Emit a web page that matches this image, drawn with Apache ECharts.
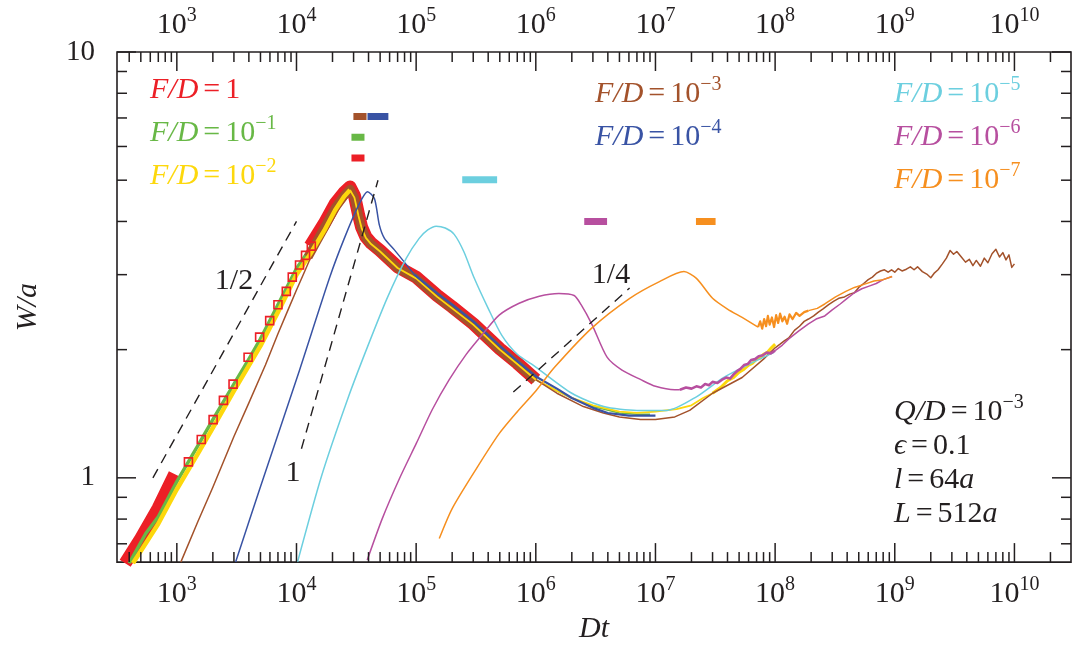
<!DOCTYPE html>
<html><head><meta charset="utf-8">
<script src="https://cdn.jsdelivr.net/npm/echarts@6/dist/echarts.min.js"></script>
<style>html,body{margin:0;padding:0;background:#fff}#c{width:1074px;height:649px}</style>
</head><body><div id="c"></div>
<script>
const FONT = '"Liberation Serif","DejaVu Serif",serif';
const INK = '#231f20';
const C = {red:'#ec1f26', green:'#68b846', yellow:'#fdd80c', brown:'#a3522b', blue:'#3953a4', cyan:'#6ccfdf', magenta:'#b74f9f', orange:'#f68f1f'};
const NAMES = ['F/D=1','F/D=10^-1','F/D=10^-2','F/D=10^-3','F/D=10^-4','F/D=10^-5','F/D=10^-6','F/D=10^-7'];
const xMin = 316.2, xMax = 2.97e10, yMin = 0.634, yMax = 10;
const xTickLabels = [1e3,1e4,1e5,1e6,1e7,1e8,1e9,1e10];
const yTickLabels = [1, 10];

// ---- F/D = 1 (red)
const redThick = [[370,0.63],[500,0.72],[700,0.85],[960,1.02]];
const redSquares = [[1250,1.09],[1600,1.23],[2010,1.37],[2450,1.52],[2950,1.66],[3940,1.92],[4920,2.14],[5970,2.34],[7000,2.55],[8220,2.74],[9220,2.96],[10600,3.16],[11900,3.33],[13300,3.50]];
const redLate = [[13000,3.50],[17000,3.95],[21000,4.40],[25000,4.68],[28000,4.82],[30500,4.60],[33000,4.15],[35000,3.88],[38000,3.68],[42000,3.56],[50000,3.42],[70000,3.13],[100000,2.96],[150000,2.68],[200000,2.52],[300000,2.30],[500000,2.01],[700000,1.86],[1000000,1.70]];
// ---- F/D = 0.1 (green)
const greenMain = [[400,0.63],[550,0.74],[700,0.81],[1000,0.98],[1500,1.19],[2000,1.37],[3000,1.66],[4000,1.90],[5000,2.12],[7000,2.55],[10000,3.10],[13000,3.45],[17000,3.90],[21000,4.35],[25000,4.62],[27500,4.76],[30500,4.55],[33000,4.15],[35000,3.88],[38000,3.68],[42000,3.56],[50000,3.42],[70000,3.13],[100000,2.96],[150000,2.68],[200000,2.52],[300000,2.30],[500000,2.01],[700000,1.86],[1000000,1.70]];
const greenValley = [[1000000,1.70],[1500000,1.60],[2000000,1.54],[3000000,1.47],[5000000,1.42],[7000000,1.41],[9000000,1.41]];
// ---- F/D = 1e-2 (yellow)
const yellowRise = [[430,0.63],[700,0.78],[1000,0.94],[1500,1.14],[2000,1.31],[3000,1.60],[5000,2.04],[7000,2.45],[10000,3.00],[13000,3.35],[17000,3.80],[21000,4.25],[25000,4.58],[28000,4.74]];
const yellowFall = [[28000,4.74],[30500,4.55],[33000,4.12],[35000,3.86],[38000,3.66],[42000,3.54],[50000,3.40],[70000,3.11],[100000,2.94],[150000,2.66],[200000,2.50],[300000,2.29],[500000,2.00],[700000,1.85],[1000000,1.70],[1500000,1.60],[2000000,1.54],[3000000,1.48],[5000000,1.43],[7000000,1.42],[10000000,1.43],[15000000,1.45],[20000000,1.48],[25000000,1.54],[30000000,1.58]];
const yellowLate = [[30000000,1.58],[35000000,1.63],[40000000,1.69],[45000000,1.72],[50000000,1.77],[55000000,1.80],[60000000,1.84],[65000000,1.86],[70000000,1.90],[75000000,1.91],[80000000,1.95],[86000000,1.97],[93000000,2.02],[100000000,2.06]];
// ---- F/D = 1e-3 (brown)
const brownRise = [[1080,0.634],[1500,0.79],[2000,0.95],[3000,1.25],[4000,1.50],[5500,1.84],[7000,2.18],[8500,2.48],[10000,2.76],[11500,3.02],[13000,3.27],[15000,3.58]];
const brownBand = [[12500,3.30],[15000,3.62],[17000,3.86],[21000,4.30],[25000,4.60],[28000,4.76],[30500,4.55],[33000,4.12],[35000,3.86],[38000,3.66],[42000,3.54],[50000,3.40],[70000,3.11],[100000,2.94],[150000,2.66],[200000,2.50],[300000,2.29],[500000,2.00],[700000,1.85],[1000000,1.70]];
const brownLate = [[1000000,1.70],[1500000,1.58],[2500000,1.47],[3670000,1.42],[5000000,1.39],[7500000,1.37],[10000000,1.37],[14500000,1.39],[19300000,1.44],[30000000,1.58],[53000000,1.72],[80000000,1.90],[100000000,2.02],[110000000,2.06],[120000000,2.10],[130000000,2.13],[145000000,2.22],[160000000,2.27],[175000000,2.33],[190000000,2.36],[210000000,2.40],[230000000,2.45],[250000000,2.49],[280000000,2.55],[310000000,2.60],[340000000,2.64],[380000000,2.66],[420000000,2.70],[460000000,2.72],[500000000,2.80],[550000000,2.86],[600000000,2.92],[650000000,2.96],[700000000,3.02],[760000000,3.06],[820000000,3.08],[880000000,3.04],[940000000,3.08],[1000000000,3.04],[1070000000,3.10],[1150000000,3.06],[1250000000,3.09],[1350000000,3.13],[1450000000,3.08],[1550000000,3.13],[1700000000,3.05],[1850000000,3.01],[2000000000,2.95],[2150000000,3.03],[2300000000,3.08],[2500000000,3.18],[2700000000,3.28],[2900000000,3.42],[3100000000,3.35],[3300000000,3.40],[3600000000,3.30],[3900000000,3.21],[4200000000,3.26],[4500000000,3.15],[4800000000,3.24],[5200000000,3.14],[5600000000,3.28],[6000000000,3.20],[6500000000,3.36],[7000000000,3.44],[7500000000,3.30],[8000000000,3.38],[8500000000,3.25],[9000000000,3.34],[9500000000,3.12],[10000000000,3.18]];
// ---- F/D = 1e-4 (blue)
const blueRise = [[3100,0.634],[4920,0.94],[10600,1.79],[18900,2.95],[25100,3.65],[33600,4.41],[39200,4.70],[44800,4.53],[49300,3.92],[54300,3.65],[65800,3.43],[96600,3.00]];
const blueFall = [[96600,3.00],[150000,2.71],[200000,2.55],[300000,2.33],[500000,2.04],[700000,1.88],[1000000,1.73],[1500000,1.62],[2000000,1.54],[3000000,1.46],[4000000,1.42],[6000000,1.40],[10000000,1.40]];
// ---- F/D = 1e-5 (cyan)
const cyanData = [[10200,0.634],[16200,1.01],[27200,1.55],[39200,2.03],[57500,2.65],[82800,3.28],[106000,3.65],[125000,3.82],[147000,3.90],[175000,3.86],[208000,3.73],[250000,3.40],[305000,2.95],[400000,2.50],[520000,2.16],[700000,1.95],[1000000,1.82],[2000000,1.58],[3700000,1.47],[7000000,1.44],[12500000,1.44],[22000000,1.55],[37000000,1.72],[61000000,1.85],[98000000,1.97]];
// ---- F/D = 1e-6 (magenta)
const magentaData = [[39000,0.641],[52200,0.803],[72400,0.995],[100500,1.206],[136500,1.447],[189000,1.70],[262000,1.95],[357000,2.17],[494000,2.41],[726000,2.57],[1070000,2.67],[1560000,2.71],[2090000,2.68],[2390000,2.55],[2950000,2.29],[3940000,1.92],[5250000,1.79],[7550000,1.70],[10000000,1.64],[14500000,1.61],[16000000,1.61]];
const magentaNoisy = [[16000000,1.61],[18000000,1.63],[20000000,1.62],[22000000,1.64],[24000000,1.63],[26000000,1.66],[28000000,1.65],[30000000,1.68],[33000000,1.67],[36000000,1.70],[39000000,1.72],[42000000,1.71],[45000000,1.75],[48000000,1.78],[51000000,1.80],[55000000,1.84],[59000000,1.85],[63000000,1.89],[68000000,1.90],[73000000,1.93],[79000000,1.94],[85000000,1.97],[92000000,1.96],[100000000,1.99]];
const magentaLate = [[100000000,1.99],[115000000,2.05],[130000000,2.12],[157000000,2.21],[190000000,2.30],[220000000,2.36],[260000000,2.40],[300000000,2.48],[350000000,2.56],[400000000,2.64],[460000000,2.72],[530000000,2.78],[610000000,2.82],[700000000,2.86],[800000000,2.92],[950000000,2.97]];
// ---- F/D = 1e-7 (orange)
const orangeData = [[156000,0.72],[200000,0.847],[318000,1.05],[494000,1.27],[700000,1.43],[1000000,1.60],[1440000,1.82],[2950000,2.25],[6100000,2.64],[10800000,2.89],[17300000,3.05],[22000000,2.94],[30000000,2.64],[40000000,2.49],[53000000,2.38],[65000000,2.30],[72000000,2.26]];
const orangeNoisy = [[72000000,2.26],[75000000,2.33],[78000000,2.24],[81000000,2.36],[84000000,2.27],[87000000,2.40],[90000000,2.29],[94000000,2.38],[98000000,2.26],[102000000,2.41],[106000000,2.31],[110000000,2.43],[115000000,2.33],[120000000,2.39],[126000000,2.30],[132000000,2.42],[140000000,2.36],[150000000,2.44],[160000000,2.40],[175000000,2.45],[190000000,2.47]];
const orangeLate = [[190000000,2.47],[225000000,2.50],[260000000,2.56],[320000000,2.66],[390000000,2.74],[460000000,2.80],[560000000,2.85],[670000000,2.90],[800000000,2.92],[950000000,2.97]];
// ---- characteristic-time bars
const barNames = NAMES;
const barT0 = [28800, 28800, null, 29900, 39200, 242700, 2540000, 21800000];
const barT1 = [37000, 37000, null, 38500, 58600, 475000, 3940000, 31800000];
const barW  = [5.64, 6.31, null, 7.06, 7.06, 5.01, 4.0, 4.0];
// ---- guide lines (slopes 1/2, 1, 1/4)
const guideHalf = [[631,1.0],[10000,4.0]];
const guideOne = [[11000,1.17],[48000,5.0]];
const guideQuarter = [[649000,1.59],[6080000,2.79]];

function makeRich(fs, ss){
  return {
    b:{fontFamily:FONT,fontSize:fs,lineHeight:34,verticalAlign:'bottom'},
    i:{fontFamily:FONT,fontSize:fs,fontStyle:'italic',lineHeight:34,verticalAlign:'bottom'},
    e:{fontFamily:FONT,fontSize:fs,lineHeight:34,verticalAlign:'bottom',padding:[0,5,0,5]},
    s:{fontFamily:FONT,fontSize:ss,lineHeight:20,verticalAlign:'bottom',padding:[0,0,14,0]}
  };
}
const richText = makeRich(30, 20);
const richTick = makeRich(30, 20);
function fdLabel(name){
  const r = name.split('=')[1];
  let s = '{i|F/D}{e|=}';
  if (r === '1') s += '{b|1}';
  else s += '{b|10}{s|\u2212' + r.split('^-')[1] + '}';
  return s;
}
function pow10Label(v){
  const e = Math.log10(v);
  if (Math.abs(e - Math.round(e)) > 1e-6) return '';
  if (xTickLabels.indexOf(Math.pow(10, Math.round(e))) < 0) return '';
  return '{b|10}{s|' + Math.round(e) + '}';
}

const chart = echarts.init(document.getElementById('c'), null, {renderer:'canvas'});
const series = [];
function ln(name, data, color, width, extra){
  series.push(Object.assign({type:'line', name:name, data:data, showSymbol:false, symbol:'none', smooth:false,
    lineStyle:{color:color, width:width, cap:'butt', join:'round'}, itemStyle:{color:color}, silent:true, animation:false}, extra||{}));
}
const SM = {smooth:0.25};
ln(NAMES[0], redThick, C.red, 13);
ln(NAMES[0], redLate, C.red, 13);
ln(NAMES[1], greenMain, C.green, 3.5);
ln(NAMES[0], redSquares, C.red, 0, {showSymbol:true, showAllSymbol:true, symbol:'rect', symbolSize:8,
  itemStyle:{color:'rgba(255,255,255,0)', borderColor:C.red, borderWidth:1.6}, lineStyle:{width:0, opacity:0}});
ln(NAMES[1], greenValley, C.green, 1.5);
ln(NAMES[3], brownRise, C.brown, 1.5);
ln(NAMES[3], brownBand, C.brown, 9);
ln(NAMES[2], yellowRise, C.yellow, 4.5);
ln(NAMES[2], yellowFall, C.yellow, 1.8);
ln(NAMES[2], yellowLate, C.yellow, 3);
ln(NAMES[3], brownLate, C.brown, 1.5);
ln(NAMES[4], blueRise, C.blue, 1.5, SM);
ln(NAMES[4], blueFall, C.blue, 2.2);
ln(NAMES[5], cyanData, C.cyan, 1.5, SM);
ln(NAMES[6], magentaData, C.magenta, 1.5, SM);
ln(NAMES[6], magentaNoisy, C.magenta, 2.6);
ln(NAMES[6], magentaLate, C.magenta, 1.5);
ln(NAMES[7], orangeData, C.orange, 1.5, SM);
ln(NAMES[7], orangeNoisy, C.orange, 2.2);
ln(NAMES[7], orangeLate, C.orange, 1.5);
const barColors = [C.red, C.green, C.yellow, C.brown, C.blue, C.cyan, C.magenta, C.orange];
barNames.forEach((n, k) => { if (barT0[k]) ln(n, [[barT0[k], barW[k]], [barT1[k], barW[k]]], barColors[k], 7); });
[guideHalf, guideOne, guideQuarter].forEach(g => series.push({type:'line', data:g, showSymbol:false, symbol:'none', silent:true, animation:false,
  lineStyle:{color:INK, width:1.4, type:[10,7]}}));

// tick marks drawn through the axis scales
const tickData = [];
for (let k = 2; k <= 10; k++) for (let m = 1; m <= 9; m++) { const v = m*Math.pow(10,k); if (v >= xMin && v <= xMax) tickData.push([v, 1, 0, m===1?1:0]); }
for (let k = -1; k <= 1; k++) for (let m = 1; m <= 9; m++) { const v = m*Math.pow(10,k); if (v >= yMin-1e-9 && v <= yMax+1e-9) tickData.push([1000, v, 1, m===1?1:0]); }
series.push({type:'custom', data:tickData, silent:true, animation:false, clip:false, encode:{x:0,y:1}, z:10,
  renderItem:function(params, api){
    const cs = params.coordSys; const kind = api.value(2); const len = api.value(3) ? 19 : 10;
    const p = api.coord([api.value(0), api.value(1)]);
    const st = {stroke:INK, lineWidth:1.5};
    if (kind === 0) { const x = p[0], b = cs.y + cs.height;
      return {type:'group', children:[{type:'line', shape:{x1:x,y1:b,x2:x,y2:b-len}, style:st},{type:'line', shape:{x1:x,y1:cs.y,x2:x,y2:cs.y+len}, style:st}]}; }
    const y = p[1], r = cs.x + cs.width;
    return {type:'group', children:[{type:'line', shape:{x1:cs.x,y1:y,x2:cs.x+len,y2:y}, style:st},{type:'line', shape:{x1:r,y1:y,x2:r-len,y2:y}, style:st}]};
  }});

const xAxisBase = {type:'log', logBase:10, min:xMin, max:xMax, splitNumber:8, axisLine:{show:false}, axisTick:{show:false}, splitLine:{show:false}, minorTick:{show:false}};
const legendCommon = {orient:'vertical', icon:'none', itemWidth:0, itemHeight:10, itemGap:9, selectedMode:false, formatter:fdLabel,
  textStyle:{fontFamily:FONT, fontSize:30, rich:richText}};
function legendData(idx){ return idx.map(k => ({name:NAMES[k], textStyle:{color:barColors[k]}})); }

chart.setOption({
  animation:false,
  backgroundColor:'#fff',
  grid:{left:117, top:52, width:956, height:515, show:true, borderColor:INK, borderWidth:1.6, backgroundColor:'transparent'},
  xAxis:[
    Object.assign({}, xAxisBase, {position:'bottom', name:'Dt', nameLocation:'middle', nameGap:48,
      nameTextStyle:{fontFamily:FONT, fontSize:30, fontStyle:'italic', color:INK},
      axisLabel:{margin:13, color:INK, formatter:pow10Label, rich:richTick}}),
    Object.assign({}, xAxisBase, {position:'top', axisLabel:{margin:12, color:INK, formatter:pow10Label, rich:richTick}})
  ],
  yAxis:[{type:'log', logBase:10, min:yMin, max:yMax, splitNumber:2, position:'left', axisLine:{show:false}, axisTick:{show:false}, splitLine:{show:false},
    name:'W/a', nameLocation:'middle', nameGap:74, nameRotate:90, nameTextStyle:{fontFamily:FONT, fontSize:30, fontStyle:'italic', color:INK},
    axisLabel:{margin:22, color:INK, fontFamily:FONT, fontSize:29, showMaxLabel:true,
      formatter:function(v){ const r = Math.round(v*1000)/1000; return yTickLabels.indexOf(r) >= 0 ? String(r) : ''; }}}],
  legend:[
    Object.assign({left:140, top:70, data:legendData([0,1,2])}, legendCommon),
    Object.assign({left:585, top:70, data:legendData([3,4])}, legendCommon),
    Object.assign({left:884, top:70, data:legendData([5,6,7])}, legendCommon)
  ],
  graphic:[
    {type:'text', x:234, y:281, silent:true, style:{text:'1/2', fill:INK, font:'30px '+FONT, align:'center', verticalAlign:'middle', textAlign:'center', textVerticalAlign:'middle'}},
    {type:'text', x:293, y:473, silent:true, style:{text:'1', fill:INK, font:'30px '+FONT, align:'center', verticalAlign:'middle', textAlign:'center', textVerticalAlign:'middle'}},
    {type:'text', x:611, y:275, silent:true, style:{text:'1/4', fill:INK, font:'30px '+FONT, align:'center', verticalAlign:'middle', textAlign:'center', textVerticalAlign:'middle'}},
    {type:'text', x:894, y:393, silent:true, style:{fill:INK,
      text:'{i|Q/D}{e|=}{b|10}{s|\u22123}\n{i|\u03f5}{e|=}{b|0.1}\n{i|l}{e|=}{b|64}{i|a}\n{i|L}{e|=}{b|512}{i|a}', rich:richText}}
  ],
  series:series
});
</script></body></html>
